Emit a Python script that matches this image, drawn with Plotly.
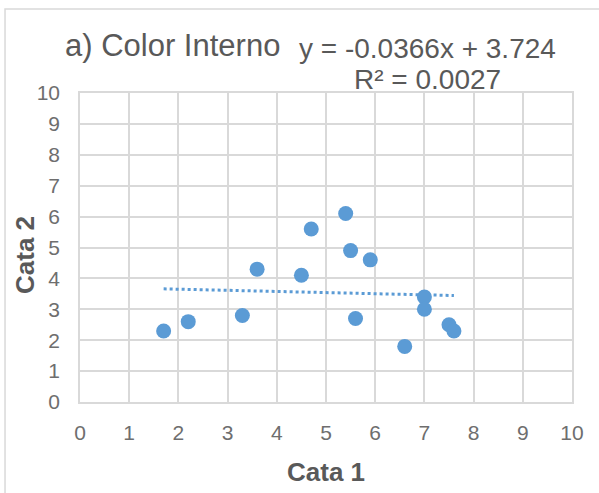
import plotly.graph_objects as go

x_vals = [1.7, 2.2, 3.3, 3.6, 4.5, 4.7, 5.4, 5.5, 5.6, 5.9, 6.6, 7.0, 7.0, 7.5, 7.6]
y_vals = [2.3, 2.6, 2.8, 4.3, 4.1, 5.6, 6.1, 4.9, 2.7, 4.6, 1.8, 3.4, 3.0, 2.5, 2.3]
slope = -0.0366
intercept = 3.724
r2 = 0.0027
tick_vals = list(range(0, 11))

blue = "#5b9bd5"
gray = "#595959"
tickgray = "#6e6e6e"
grid = "#d9d9d9"
FONT = "Liberation Sans, Arial, sans-serif"

x0, x1 = min(x_vals), max(x_vals)
trend_x = [x0, x1]
trend_y = [slope * v + intercept for v in trend_x]

fig = go.Figure()
fig.add_trace(go.Scatter(x=trend_x, y=trend_y, mode="lines",
                         line=dict(color=blue, width=3, dash="dot"),
                         hoverinfo="skip", showlegend=False))
fig.add_trace(go.Scatter(x=x_vals, y=y_vals, mode="markers",
                         marker=dict(color=blue, size=15, line=dict(width=0)),
                         showlegend=False))

tickfont = dict(family=FONT, size=21, color=tickgray)

fig.update_xaxes(range=[0, 10], tickvals=tick_vals, showgrid=True, gridcolor=grid, gridwidth=1.5,
                 showline=True, linecolor=grid, linewidth=1.5, mirror=True, zeroline=False,
                 tickfont=tickfont, ticks="", ticklabelstandoff=11)
fig.update_yaxes(range=[0, 10], tickvals=tick_vals, showgrid=True, gridcolor=grid, gridwidth=1.5,
                 showline=True, linecolor=grid, linewidth=1.5, mirror=True, zeroline=False,
                 tickfont=tickfont, ticks="", ticklabelstandoff=14)

# axis titles
fig.add_annotation(xref="paper", yref="paper", x=0.5, y=(402 - 472) / 309, xanchor="center", yanchor="middle",
                   text="<b>Cata 1</b>", showarrow=False, font=dict(family=FONT, size=26, color=gray))
fig.add_annotation(xref="paper", yref="paper", x=(25 - 80) / 492, y=(402 - 255) / 309, xanchor="center",
                   yanchor="middle", textangle=-90,
                   text="<b>Cata 2</b>", showarrow=False, font=dict(family=FONT, size=26, color=gray))

# title and trendline label
fig.add_annotation(xref="paper", yref="paper", x=(63 - 80) / 492, y=(402 - 46) / 309, xanchor="left", yanchor="middle",
                   text="a) Color Interno", showarrow=False, font=dict(family=FONT, size=31, color=gray))
fig.add_annotation(xref="paper", yref="paper", x=(297 - 80) / 492, y=(402 - 48) / 309, xanchor="left", yanchor="middle",
                   text=f"y = {slope}x + {intercept}", showarrow=False, font=dict(family=FONT, size=28, color=gray))
fig.add_annotation(xref="paper", yref="paper", x=(352 - 80) / 492, y=(402 - 79) / 309, xanchor="left", yanchor="middle",
                   text=f"R² = {r2}", showarrow=False, font=dict(family=FONT, size=28, color=gray))

fig.add_shape(type="rect", xref="paper", yref="paper", x0=-0.1524, y0=-0.4, x1=1.2, y1=1.272,
              line=dict(color=grid, width=1.5), fillcolor="rgba(0,0,0,0)", layer="below")

fig.update_layout(width=599, height=493, margin=dict(l=80, r=27, t=93, b=91),
                  plot_bgcolor="white", paper_bgcolor="white")

fig.write_html("out.html")
